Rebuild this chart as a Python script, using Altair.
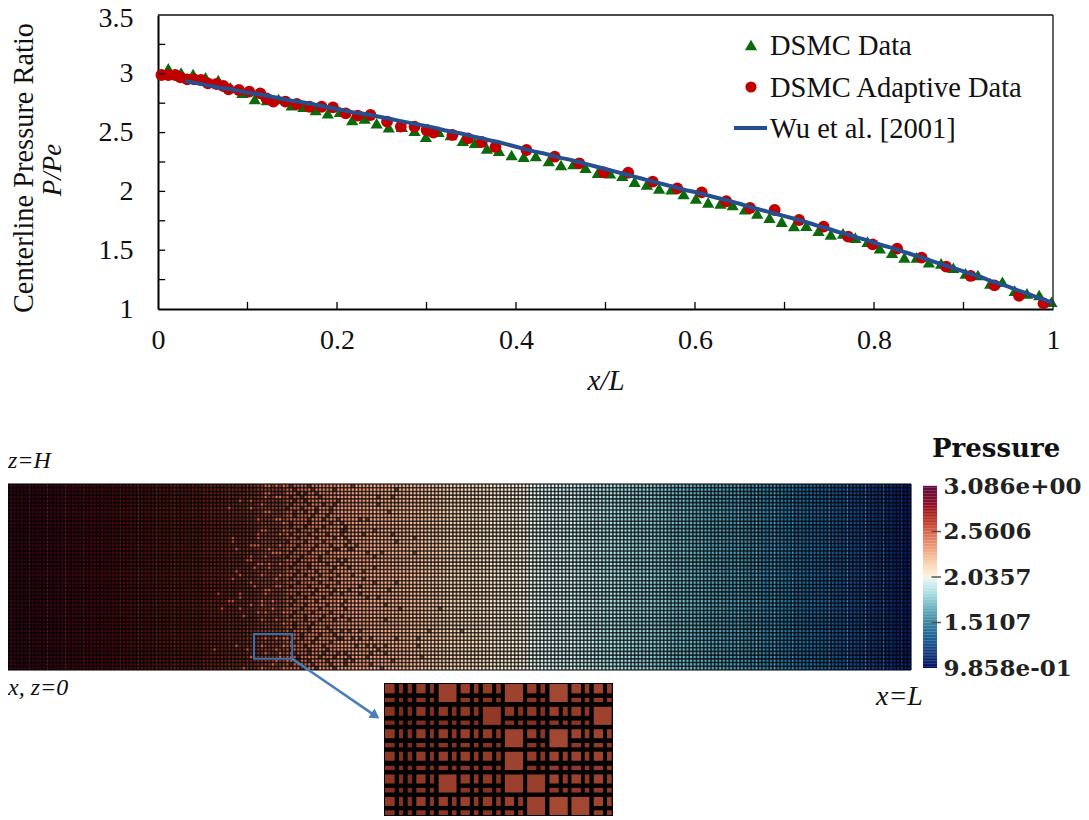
import altair as alt
import pandas as pd

# ---------- centerline data ----------
dsmc_x = [.0115,.0258,.0392,.0531,.0673,.0808,.0943,.1081,.1216,.1347,.1493,.1624,.1762,.1897,.2032,.217,.2309,.2443,.2578,.2724,.2866,.2993,.3136,.3271,.3405,.354,.3675,.3809,.3951,.4086,.4221,
          .4366,.4503,.464,.4777,.4914,.5051,.5188,.5325,.5462,.5599,.5736,.5873,.601,.6147,.6284,.6421,.6558,.6695,.6832,.6969,.7106,.7243,.738,.7517,.7654,.7791,.7928,.8065,.8202,.8339,.8476,.8613,.875,.8887,.9024,.9161,.9298,.9435,.9572,.9709,.9846,.9983]
dsmc_p = [3.046,3.010,2.998,2.970,2.947,2.885,2.840,2.786,2.777,2.786,2.732,2.72,2.692,2.664,2.678,2.607,2.621,2.579,2.545,2.551,2.516,2.465,2.508,2.480,2.431,2.414,2.366,2.347,2.31,2.295,2.301,
          2.258,2.224,2.233,2.202,2.159,2.154,2.134,2.083,2.060,2.026,2.018,1.978,1.941,1.907,1.898,1.884,1.848,1.813,1.777,1.743,1.706,1.709,1.666,1.635,1.643,1.607,1.573,1.516,1.479,1.439,1.439,1.397,1.388,1.351,1.303,1.289,1.218,1.232,1.156,1.133,1.119,1.062]
adaptive_x = [.0038,.0115,.0192,.025,.0327,.0404,.0481,.0558,.0654,.0731,.0789,.0904,.102,.1143,.1212,.1289,.1424,.1551,.1693,.1828,.1955,.2097,.2232,.2374,.2559,.2713,.2866,.3001,.3078,.329,.3463,.3617,.3771,.4117,
              .4432,.4706,.498,.5254,.5528,.5802,.6075,.6349,.6615,.689,.7163,.7437,.7711,.7985,.8259,.8532,.8806,.908,.9346,.962,.9894]
adaptive_p = [2.99,2.99,2.99,2.97,2.953,2.953,2.947,2.919,2.913,2.896,2.868,2.862,2.848,2.834,2.791,2.763,2.763,2.743,2.72,2.72,2.715,2.664,2.644,2.65,2.593,2.551,2.551,2.522,2.5,2.48,2.451,2.42,2.378,2.352,
              2.295,2.239,2.162,2.159,2.083,2.026,1.992,1.916,1.859,1.842,1.757,1.700,1.615,1.550,1.513,1.437,1.360,1.281,1.201,1.113,1.048]
# Wu et al. centerline, one value per 0.01 of x/L
wu_p = [2.98,2.97,2.955,2.94,2.925,2.91,2.895,2.88,2.87,2.855,
        2.84,2.83,2.815,2.80,2.785,2.77,2.76,2.745,2.73,2.715,
        2.70,2.685,2.67,2.66,2.645,2.63,2.615,2.60,2.585,2.57,
        2.555,2.54,2.52,2.505,2.49,2.47,2.455,2.435,2.42,2.40,
        2.38,2.36,2.34,2.325,2.305,2.285,2.27,2.25,2.23,2.21,
        2.19,2.17,2.15,2.13,2.11,2.09,2.07,2.05,2.03,2.01,
        1.995,1.975,1.955,1.935,1.915,1.895,1.87,1.85,1.83,1.81,
        1.79,1.77,1.75,1.725,1.70,1.68,1.655,1.635,1.61,1.59,
        1.565,1.54,1.52,1.495,1.47,1.445,1.42,1.395,1.37,1.345,
        1.32,1.295,1.27,1.24,1.215,1.19,1.16,1.135,1.105,1.08,1.05]
legend_names = ["DSMC Data", "DSMC Adaptive Data", "Wu et al. [2001]"]

# ---------- pressure colour bar ----------
cb_values = [.9858,1.15,1.3,1.5107,1.7,1.85,2.01,2.0357,2.18,2.35,2.5606,2.65,2.80,2.95,3.086]
cb_colors = ["#04065c","#15377a","#1e5a90","#3f86a3","#6fb5c3","#aadfe3","#e0f5f5","#fdf3e0","#f9d6b4","#efa583","#d9684f","#c5402f","#a41a1e","#7a1030","#5e0f3e"]
cb_ticks = [3.086,2.5606,2.0357,1.5107,.9858]

# ---------- adaptive mesh: row (from top) -> columns ----------
open_cells = {0:[72,73,75,77],2:[72,73,78],3:[72,75,76],4:[65,68],5:[71],6:[62,68],7:[72,73],9:[70,75,76],10:[77],12:[71,72,77],13:[70,76,78],14:[63,70],15:[63],16:[68,69,70,76],17:[64,73],18:[74,75,76],19:[68,72],20:[67,68,78],21:[70,71,73,76],22:[69,73],23:[64],24:[65,71,76,78],25:[63,75],
              26:[68],27:[69,75,76],28:[72,73],29:[59,65,72],30:[65],31:[62,63,71,74],32:[68,71],33:[60,65,74],34:[70,72,77,78],35:[66],36:[71,75],37:[77],41:[72,75,77,78],43:[64,71,77],44:[58,67,75],45:[72,76],46:[68,76],47:[75,78],48:[74],49:[66,71,77]}
fine_cells = {0:[96,79,84],1:[108,91,80,85],2:[81,83,86],3:[103,107,79,82,87],4:[83,92,80],5:[103,88,79,84,91],6:[82,90,78,86],7:[106,86,80,83,90],8:[80,85,89],9:[98,100,84,88,92],10:[93,79,84,90],11:[94,83,88,79],12:[102,94,93,81,86],13:[93,99,107,79,84,89],14:[113,91,94,81,86],15:[108,95,78,83,88],16:[97,94,81,86,90],17:[96,92,80,85,91,95],18:[100,104,113,79,84,89],19:[102,82,78,87],20:[94,87,92,81],21:[93,80,84,89],22:[95,102,84,91,79],23:[99,81,86,90],24:[96,87,92,80,83],25:[99,79,85,90],
              26:[102,108,87,81,92],27:[98,84,79,89],28:[106,95,91,86],29:[93,98,81,85,90],30:[100,103,79,83,88],31:[86,94,80],32:[105,93,83,79,89],33:[94,109,120,82,87],34:[80,85,90],35:[88,93,79,83],36:[95,105,83,87,91],37:[80,85],38:[80,84,89],39:[117,126,95,98,84,90,93,79],40:[82,87,91],41:[114,93,98,101,108,82,86,92,96,79],42:[80,85,90],43:[97,100,105,102,114,83,88],44:[103,84,79,89],45:[101,105,94,80,88,92,84],46:[95,100,115,81,87,91],47:[107,96,81,84,89,94],48:[94,101,79,85,90],49:[104,86,91,82]}
# darkening of the fully refined part of the mesh: first column, last column, strength
refined_bands = [(0,55,.55),(55,70,.5),(70,78,.4),(78,84,.15),(84,92,.05)]

# ---------- inset: sub-cell bands (left, split, right of each coarse cell) ----------
inset_cols = [(3,32,45,57),(71,71,71,84),(97,125,138,150),(164,192,204,218),(230,258,270,284),(297,325,337,351),(363,391,403,418),(430,458,470,484),(497,525,537,552),(563,592,603,617),(630,658,670,684)]
inset_rows = [(3,31,44,57),(71,98,112,125),(138,165,179,192),(205,232,247,260),(273,300,313,327),(340,367,380,394)]
inset_squares = [(3,0),(6,0),(8,0),(5,1),(10,1),(6,2),(8,2),(6,3),(3,4),(6,4),(7,4),(7,5),(8,5),(9,5)]
inset_col_shade = [.25,.2,.35,.4,.45,.35,.45,.4,.6,.55,.6]
inset_row_shade = [.05,-.1,.05,.05,0,.1]

# ---------- canvas layout (canvas = page - 8) ----------
W, H = 1073, 808
X_TOP = alt.Scale(domain=[0, 1], range=[150, 1045])
Y_TOP = alt.Scale(domain=[1, 3.5], range=[301, 7])
X_MESH = alt.Scale(domain=[1.65, 250], range=[0, 903])
Y_MESH = alt.Scale(domain=[0, 50], range=[476, 662])
X_INS = alt.Scale(domain=[0, 688], range=[376, 605])
Y_INS = alt.Scale(domain=[0, 397], range=[675, 808])
Y_BAR = alt.Scale(domain=[.9858, 3.086], range=[660, 478])
C_P = alt.Scale(domain=cb_values, range=cb_colors)
C_INS = alt.Scale(domain=[0, 1], range=["#7e2a1c", "#a94c36"])

SERIF = "Liberation Serif"
BAR = "DejaVu Serif"

def xt(f, **k): return alt.X(f, scale=X_TOP, axis=k.pop("axis", None), title=None)
def yt(f, **k): return alt.Y(f, scale=Y_TOP, axis=k.pop("axis", None), title=None)
def xm(f): return alt.X(f, scale=X_MESH, axis=None, title=None)
def ym(f): return alt.Y(f, scale=Y_MESH, axis=None, title=None)
def xi(f): return alt.X(f, scale=X_INS, axis=None, title=None)
def yi(f): return alt.Y(f, scale=Y_INS, axis=None, title=None)

def txt(s, x, y, size=28, style="normal", font=SERIF, weight="normal", align="left", angle=0):
    return alt.Chart(pd.DataFrame({"t": [s]})).mark_text(
        font=font, fontSize=size, fontStyle=style, fontWeight=weight, align=align,
        baseline="middle", angle=angle, color="#111111"
    ).encode(text="t:N", x=alt.value(x), y=alt.value(y))

layers = []

# ---------- top panel ----------
y_axis = alt.Axis(values=[1,1.5,2,2.5,3,3.5], format="~g", ticks=False, grid=False, offset=-150,
                  domainColor="black", domainWidth=2, labelFont=SERIF, labelFontSize=28, labelColor="#111111",
                  labelPadding=25, labelOverlap=False, labelBound=False,
                  labelOffset={"condition": {"test": "datum.value == 3.5", "value": 3}, "value": 0}, title=None)
x_axis = alt.Axis(values=[0,.2,.4,.6,.8,1], format="~g", ticks=False, grid=False, offset=-(H-301),
                  domainColor="black", domainWidth=2, labelFont=SERIF, labelFontSize=28, labelColor="#111111",
                  labelPadding=17, labelOverlap=False, labelBound=False, labelFlush=False,
                  title="x/L", titleFont=SERIF, titleFontSize=29, titleFontStyle="italic", titleFontWeight="normal",
                  titleColor="#111111", titlePadding=12)

dsmc = pd.DataFrame({"x": dsmc_x, "p": dsmc_p})
adaptive = pd.DataFrame({"x": adaptive_x, "p": adaptive_p})
wu = pd.DataFrame({"x": [i/100 for i in range(len(wu_p))], "p": wu_p})
wu = wu[wu.x >= .025]

layers.append(alt.Chart(dsmc).mark_point(filled=True, shape="triangle-up", size=150, color="#0b6b0b", opacity=1)
              .encode(x=alt.X("x:Q", scale=X_TOP, axis=x_axis, title="x/L"),
                      y=alt.Y("p:Q", scale=Y_TOP, axis=y_axis, title=None)))
layers.append(alt.Chart(adaptive).mark_point(filled=True, shape="circle", size=140, color="#c00000", opacity=1)
              .encode(x=xt("x:Q"), y=yt("p:Q")))
layers.append(alt.Chart(wu).mark_line(color="#254f8f", strokeWidth=4)
              .encode(x=xt("x:Q"), y=yt("p:Q")))

# inward ticks and the top / right frame
xticks = pd.DataFrame({"x": [i/10 for i in range(1, 10)], "a": 1.0, "b": 1.06})
yticks = pd.DataFrame({"y": [1.25,1.5,1.75,2,2.25,2.5,2.75,3,3.25], "a": 0.0, "b": .008})
layers.append(alt.Chart(xticks).mark_rule(color="black", strokeWidth=1.3)
              .encode(x=xt("x:Q"), y=yt("a:Q"), y2="b:Q"))
layers.append(alt.Chart(yticks).mark_rule(color="black", strokeWidth=1.3)
              .encode(y=yt("y:Q"), x=xt("a:Q"), x2="b:Q"))
layers.append(alt.Chart(pd.DataFrame({"x": [1.0], "a": [1.0], "b": [3.5]})).mark_rule(color="#333333", strokeWidth=1.5)
              .encode(x=xt("x:Q"), y=yt("a:Q"), y2="b:Q"))
layers.append(alt.Chart(pd.DataFrame({"y": [3.5], "a": [0.0], "b": [1.0]})).mark_rule(color="#111111", strokeWidth=1.5)
              .encode(y=yt("y:Q"), x=xt("a:Q"), x2="b:Q"))

layers.append(txt("Centerline Pressure Ratio", 16, 160, size=28.4, align="center", angle=270))
layers.append(txt("P/Pe", 45, 162, size=27, style="italic", align="center", angle=270))

# legend drawn inside the frame
layers.append(alt.Chart(pd.DataFrame({"k": [legend_names[0]]})).mark_point(filled=True, shape="triangle-up", size=150, color="#0b6b0b", opacity=1)
              .encode(x=alt.value(743), y=alt.value(37)))
layers.append(alt.Chart(pd.DataFrame({"k": [legend_names[1]]})).mark_point(filled=True, shape="circle", size=125, color="#c00000", opacity=1)
              .encode(x=alt.value(743), y=alt.value(79)))
layers.append(alt.Chart(pd.DataFrame({"k": [legend_names[2]]})).mark_rule(color="#254f8f", strokeWidth=4)
              .encode(x=alt.value(726), x2=alt.value(759), y=alt.value(120)))
layers.append(txt(legend_names[0], 762, 38, size=28.5))
layers.append(txt(legend_names[1], 762, 80, size=28.5))
layers.append(txt(legend_names[2], 762, 121, size=28.5))

# ---------- mesh panel ----------
stripes = pd.DataFrame({"a": [i*2.5 for i in range(100)], "b": [(i+1)*2.5 for i in range(100)],
                        "p": [(wu_p[i]+wu_p[i+1])/2 for i in range(100)]})
layers.append(alt.Chart(stripes).mark_rect(stroke=None)
              .encode(x=xm("a:Q"), x2="b:Q", y=alt.value(476), y2=alt.value(662),
                      color=alt.Color("p:Q", scale=C_P, legend=None)))
bands = pd.DataFrame(refined_bands, columns=["a", "b", "o"])
layers.append(alt.Chart(bands).mark_rect(color="black")
              .encode(x=xm("a:Q"), x2="b:Q", y=alt.value(476), y2=alt.value(662),
                      opacity=alt.Opacity("o:Q", scale=None, legend=None)))

open_rows = [{"c": c, "c2": c+1, "r": r, "r2": r+1, "p": wu_p[round(c/2.5)]} for r, cs in open_cells.items() for c in cs]
fine_rows = [{"c": c, "c2": c+1, "r": r, "r2": r+1} for r, cs in fine_cells.items() for c in cs]
layers.append(alt.Chart(pd.DataFrame(open_rows)).mark_rect()
              .encode(x=xm("c:Q"), x2="c2:Q", y=ym("r:Q"), y2="r2:Q",
                      color=alt.Color("p:Q", scale=C_P, legend=None)))

layers.append(alt.Chart(pd.DataFrame({"c": list(range(2, 251))})).mark_rule(color="black", strokeWidth=1.6, opacity=.7)
              .encode(x=xm("c:Q"), y=alt.value(476), y2=alt.value(662)))
layers.append(alt.Chart(pd.DataFrame({"r": list(range(0, 51))})).mark_rule(color="black", strokeWidth=1.6, opacity=.7)
              .encode(y=ym("r:Q"), x=alt.value(0), x2=alt.value(903)))
layers.append(alt.Chart(pd.DataFrame(fine_rows)).mark_rect(color="black", opacity=.55)
              .encode(x=xm("c:Q"), x2="c2:Q", y=ym("r:Q"), y2="r2:Q"))

# selection box and arrow
layers.append(alt.Chart(pd.DataFrame({"a": [69.3], "b": [79.8], "c": [40.3], "d": [47.0]}))
              .mark_rect(fillOpacity=0, stroke="#3d6da5", strokeWidth=2)
              .encode(x=xm("a:Q"), x2="b:Q", y=ym("c:Q"), y2="d:Q"))
layers.append(alt.Chart(pd.DataFrame({"a": [79.8], "b": [102.5], "c": [47.0], "d": [62.2]}))
              .mark_rule(color="#4a7ebb", strokeWidth=2.5)
              .encode(x=xm("a:Q"), x2="b:Q", y=ym("c:Q"), y2="d:Q"))
layers.append(alt.Chart(pd.DataFrame({"a": [102.7], "c": [62.3]}))
              .mark_point(filled=True, shape="triangle-right", size=120, angle=34, color="#4a7ebb", opacity=1)
              .encode(x=xm("a:Q"), y=ym("c:Q")))

# annotations
layers.append(txt("z=H", 0, 453, size=24, style="italic"))
layers.append(txt("x, z=0", 0, 680, size=24, style="italic"))
layers.append(txt("x=L", 868, 689, size=28, style="italic"))

# ---------- colour bar ----------
lv = [.9858 + i*(3.086-.9858)/120 for i in range(120)]
bar = pd.DataFrame({"a": lv, "b": [v + (3.086-.9858)/120 + .002 for v in lv], "m": [v + (3.086-.9858)/240 for v in lv]})
bar_axis = alt.Axis(values=cb_ticks, ticks=False, domain=False, grid=False, orient="right", offset=-(W-929),
                    labelExpr="datum.value > 3 ? '3.086e+00' : datum.value < 1 ? '9.858e-01' : format(datum.value,'.4f')",
                    labelFont=BAR, labelFontSize=23, labelFontWeight="bold", labelColor="#222222", labelPadding=6,
                    labelOverlap=False, labelBound=False, labelFlush=False, title=None)
layers.append(alt.Chart(bar).mark_rect()
              .encode(x=alt.value(915), x2=alt.value(929),
                      y=alt.Y("a:Q", scale=Y_BAR, axis=bar_axis), y2="b:Q",
                      color=alt.Color("m:Q", scale=C_P, legend=None)))
layers.append(alt.Chart(pd.DataFrame({"y": cb_ticks[1:4]})).mark_rule(color="#555555", strokeWidth=1.5)
              .encode(x=alt.value(923.5), x2=alt.value(933), y=alt.Y("y:Q", scale=Y_BAR, axis=None)))
layers.append(txt("Pressure", 924, 441, size=26, font=BAR, weight="bold"))

# ---------- inset ----------
layers.append(alt.Chart(pd.DataFrame({"a": [0], "b": [688], "c": [0], "d": [397]})).mark_rect(color="black")
              .encode(x=xi("a:Q"), x2="b:Q", y=yi("c:Q"), y2="d:Q"))
cells = []
for ci, (x0, x1, x2, x3) in enumerate(inset_cols):
    for ri, (y0, y1, y2, y3) in enumerate(inset_rows):
        base = inset_col_shade[ci] + inset_row_shade[ri]
        if (ci, ri) in inset_squares:
            cells.append({"a": x0, "b": x3, "c": y0, "d": y3, "s": base + .2})
            continue
        if x1 > x0:
            cells.append({"a": x0, "b": x1, "c": y0, "d": y1, "s": base + .1})
            cells.append({"a": x0, "b": x1, "c": y2, "d": y3, "s": base - .15})
        cells.append({"a": x2, "b": x3, "c": y0, "d": y1, "s": base - .1})
        cells.append({"a": x2, "b": x3, "c": y2, "d": y3, "s": base - .2})
layers.append(alt.Chart(pd.DataFrame(cells)).mark_rect()
              .encode(x=xi("a:Q"), x2="b:Q", y=yi("c:Q"), y2="d:Q",
                      color=alt.Color("s:Q", scale=C_INS, legend=None)))

chart = (alt.layer(*layers)
         .resolve_scale(x="independent", y="independent", color="independent")
         .properties(width=W, height=H, padding=0, autosize=alt.AutoSizeParams(type="none"))
         .configure_view(stroke=None))

chart.save("out.html", embed_options={"renderer": "svg", "actions": False})
